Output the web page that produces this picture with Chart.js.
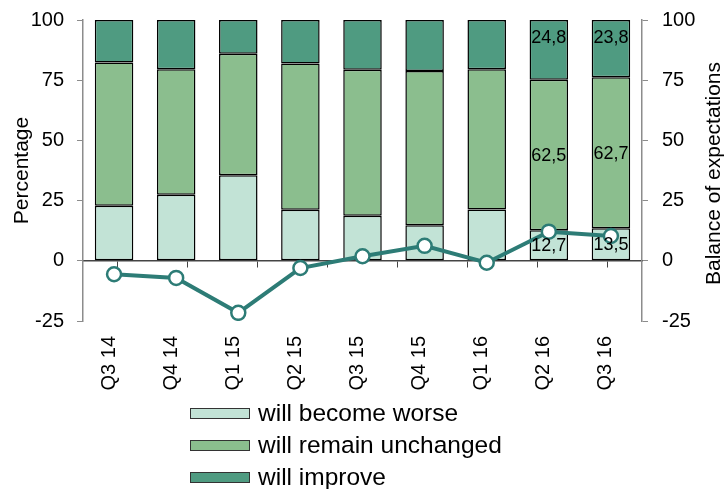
<!DOCTYPE html>
<html>
<head>
<meta charset="utf-8">
<style>
  html, body { margin: 0; padding: 0; background: #fff; }
  #wrap { position: relative; width: 728px; height: 489px; }
</style>
<script src="https://cdn.jsdelivr.net/npm/chart.js@4.4.0/dist/chart.umd.min.js"></script>
</head>
<body>
<div id="wrap"><canvas id="expChart" width="728" height="489"></canvas></div>
<script>
// Data
const quarters = ["Q3 14", "Q4 14", "Q1 15", "Q2 15", "Q3 15", "Q4 15", "Q1 16", "Q2 16", "Q3 16"];
const worse = [22.9, 27.4, 35.5, 21.2, 18.7, 14.8, 21.3, 12.7, 13.5];
const unchanged = [59.5, 52.1, 50.5, 60.7, 60.6, 64.0, 58.2, 62.5, 62.7];
const improve = [17.6, 20.5, 14.0, 18.1, 20.7, 21.2, 20.5, 24.8, 23.8];
const balance = [-5.6, -7.1, -21.6, -3.0, 1.9, 6.2, -0.8, 12.1, 10.3];
const yTicks = [-25, 0, 25, 50, 75, 100];
const labeledQuarters = ["Q2 16", "Q3 16"];

const FONT = "'Liberation Sans', Arial, sans-serif";
const axisGrey = "#8c8c8c";

// value labels inside the last bars
const valueLabels = {
  id: "valueLabels",
  afterDatasetsDraw(chart) {
    const ctx = chart.ctx;
    ctx.save();
    ctx.font = "18px " + FONT;
    ctx.fillStyle = "#000";
    ctx.textAlign = "center";
    ctx.textBaseline = "middle";
    chart.data.datasets.forEach((ds, di) => {
      if (ds.type === "line") return;
      const meta = chart.getDatasetMeta(di);
      meta.data.forEach((bar, i) => {
        if (!labeledQuarters.includes(quarters[i])) return;
        const top = Math.min(bar.y, bar.base);
        const bottom = Math.max(bar.y, bar.base);
        let y = (top + bottom) / 2;
        if (di === 2) y = top + 17;
        ctx.fillText(ds.data[i].toFixed(1).replace(".", ","), bar.x, y + 1);
      });
    });
    ctx.restore();
  }
};

// right title (reads bottom to top) + stacked legend below
const extras = {
  id: "extras",
  afterDraw(chart) {
    const ctx = chart.ctx;
    const area = chart.chartArea;
    ctx.save();
    ctx.font = "21px " + FONT;
    ctx.fillStyle = "#000";
    ctx.textAlign = "center";
    ctx.textBaseline = "middle";
    ctx.translate(714, (area.top + area.bottom) / 2 + 3);
    ctx.rotate(-Math.PI / 2);
    ctx.fillText("Balance of expectations", 0, 0);
    ctx.restore();

    ctx.save();
    const bars = chart.data.datasets.filter(d => d.type !== "line");
    bars.forEach((ds, i) => {
      const y = area.bottom + 87 + i * 32;
      ctx.fillStyle = ds.backgroundColor;
      ctx.fillRect(190, y, 60, 11);
      ctx.strokeStyle = "#333";
      ctx.lineWidth = 1;
      ctx.strokeRect(190.5, y + 0.5, 59, 10);
      ctx.fillStyle = "#000";
      ctx.font = "24.5px " + FONT;
      ctx.textAlign = "left";
      ctx.textBaseline = "middle";
      ctx.fillText(ds.label, 258, y + 6);
    });
    ctx.restore();
  }
};

const ctx = document.getElementById("expChart").getContext("2d");
const chart = new Chart(ctx, {
  data: {
    labels: quarters,
    datasets: [
      {
        type: "bar",
        label: "will become worse",
        data: worse,
        backgroundColor: "#c2e3d6",
        borderColor: "#000",
        borderWidth: 1.5,
        borderSkipped: false,
        order: 1
      },
      {
        type: "bar",
        label: "will remain unchanged",
        data: unchanged,
        backgroundColor: "#8bbe8e",
        borderColor: "#000",
        borderWidth: 1.5,
        borderSkipped: false,
        order: 1
      },
      {
        type: "bar",
        label: "will improve",
        data: improve,
        backgroundColor: "#4f9b81",
        borderColor: "#000",
        borderWidth: 1.5,
        borderSkipped: false,
        order: 1
      },
      {
        type: "line",
        label: "Balance",
        data: balance,
        yAxisID: "y2",
        borderColor: "#2d7c76",
        borderWidth: 4,
        pointRadius: 7,
        pointBackgroundColor: "#fff",
        pointBorderColor: "#2d7c76",
        pointBorderWidth: 2.5,
        tension: 0,
        order: 0
      }
    ]
  },
  options: {
    responsive: false,
    animation: false,
    datasets: {
      bar: { categoryPercentage: 1, barPercentage: 0.62 }
    },
    layout: { padding: { top: 20, bottom: 83, left: 0, right: 0 } },
    plugins: {
      legend: { display: false },
      tooltip: { enabled: false }
    },
    scales: {
      x: {
        stacked: true,
        grid: { display: false, drawTicks: false },
        border: { display: false },
        ticks: {
          minRotation: 90,
          maxRotation: 90,
          padding: 15,
          labelOffset: -5,
          color: "#000",
          font: { size: 20, family: FONT }
        },
        afterFit(scale) { scale.height = 85; }
      },
      xZero: {
        type: "category",
        position: { y: 0 },
        grid: { offset: true, drawOnChartArea: false, tickLength: 6, color: "#444" },
        border: { display: true, color: "#444", width: 1.5 },
        ticks: { display: false }
      },
      y: {
        stacked: true,
        min: -25,
        max: 100,
        afterBuildTicks(scale) { scale.ticks = yTicks.map(v => ({ value: v })); },
        grid: { drawOnChartArea: false, tickLength: 6, color: axisGrey },
        border: { color: axisGrey, width: 1.5 },
        ticks: { padding: 13, color: "#000", font: { size: 20, family: FONT } },
        title: {
          display: true,
          text: "Percentage",
          color: "#000",
          font: { size: 21, family: FONT },
          padding: { top: 10, bottom: 0 }
        },
        afterFit(scale) { scale.width = 83; scale.paddingTop = 0; scale.paddingBottom = 0; }
      },
      y2: {
        position: "right",
        min: -25,
        max: 100,
        afterBuildTicks(scale) { scale.ticks = yTicks.map(v => ({ value: v })); },
        grid: { drawOnChartArea: false, tickLength: 6, color: axisGrey },
        border: { color: axisGrey, width: 1.5 },
        ticks: { padding: 14, color: "#000", font: { size: 20, family: FONT } },
        afterFit(scale) { scale.width = 86; scale.paddingTop = 0; scale.paddingBottom = 0; }
      }
    }
  },
  plugins: [valueLabels, extras]
});
</script>
</body>
</html>
